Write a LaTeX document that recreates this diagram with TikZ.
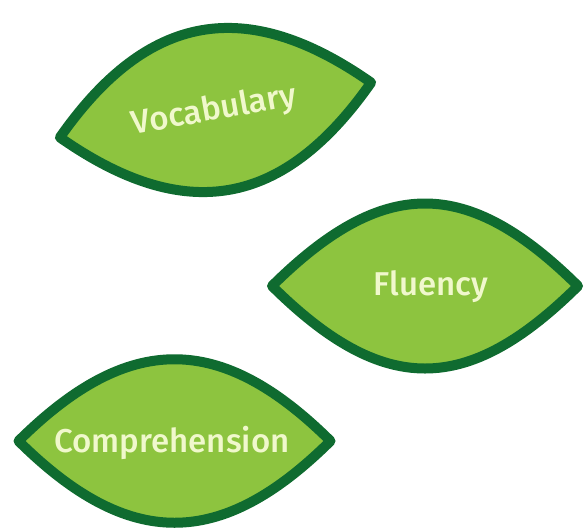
\documentclass[tikz,border=0pt]{standalone}
\usepackage{fontspec}
\setmainfont{Fira Sans}[UprightFont=* Medium]
\definecolor{leafedge}{HTML}{0F6B30}
\definecolor{leaffill}{HTML}{8DC43F}
\definecolor{leaftext}{HTML}{F0F8CC}
\tikzset{
  leafbody/.style={draw=leafedge, fill=leaffill, line width=10pt, line join=round},
  leaflabel/.style={text=leaftext, font=\fontsize{33}{39}\selectfont, inner sep=0pt}
}
% a lens-shaped leaf: half length #1, control offset #2, control height #3
\newcommand\leafpath[3]{(-#1,0) .. controls (-#2,#3) and (#2,#3) .. (#1,0)
  .. controls (#2,-#3) and (-#2,-#3) .. (-#1,0) -- cycle}
\begin{document}
\begin{tikzpicture}[x=1pt,y=-1pt]
\useasboundingbox (0,0) rectangle (586,528);
% Vocabulary
\begin{scope}[shift={(215.5,110)}, rotate=10]
  \path[leafbody] \leafpath{158}{50}{108};
\end{scope}
\node[leaflabel, rotate=10] (vocab) at (214,111) {Vocabulary};
% Fluency
\begin{scope}[shift={(425,286)}]
  \path[leafbody] \leafpath{153}{42}{110};
\end{scope}
\node[leaflabel] (fluency) at (431,287) {Fluency};
% Comprehension
\begin{scope}[shift={(174.5,441)}]
  \path[leafbody] \leafpath{156}{46}{109};
\end{scope}
\node[leaflabel] (compr) at (172,443) {Comprehension};
\end{tikzpicture}
\end{document}
